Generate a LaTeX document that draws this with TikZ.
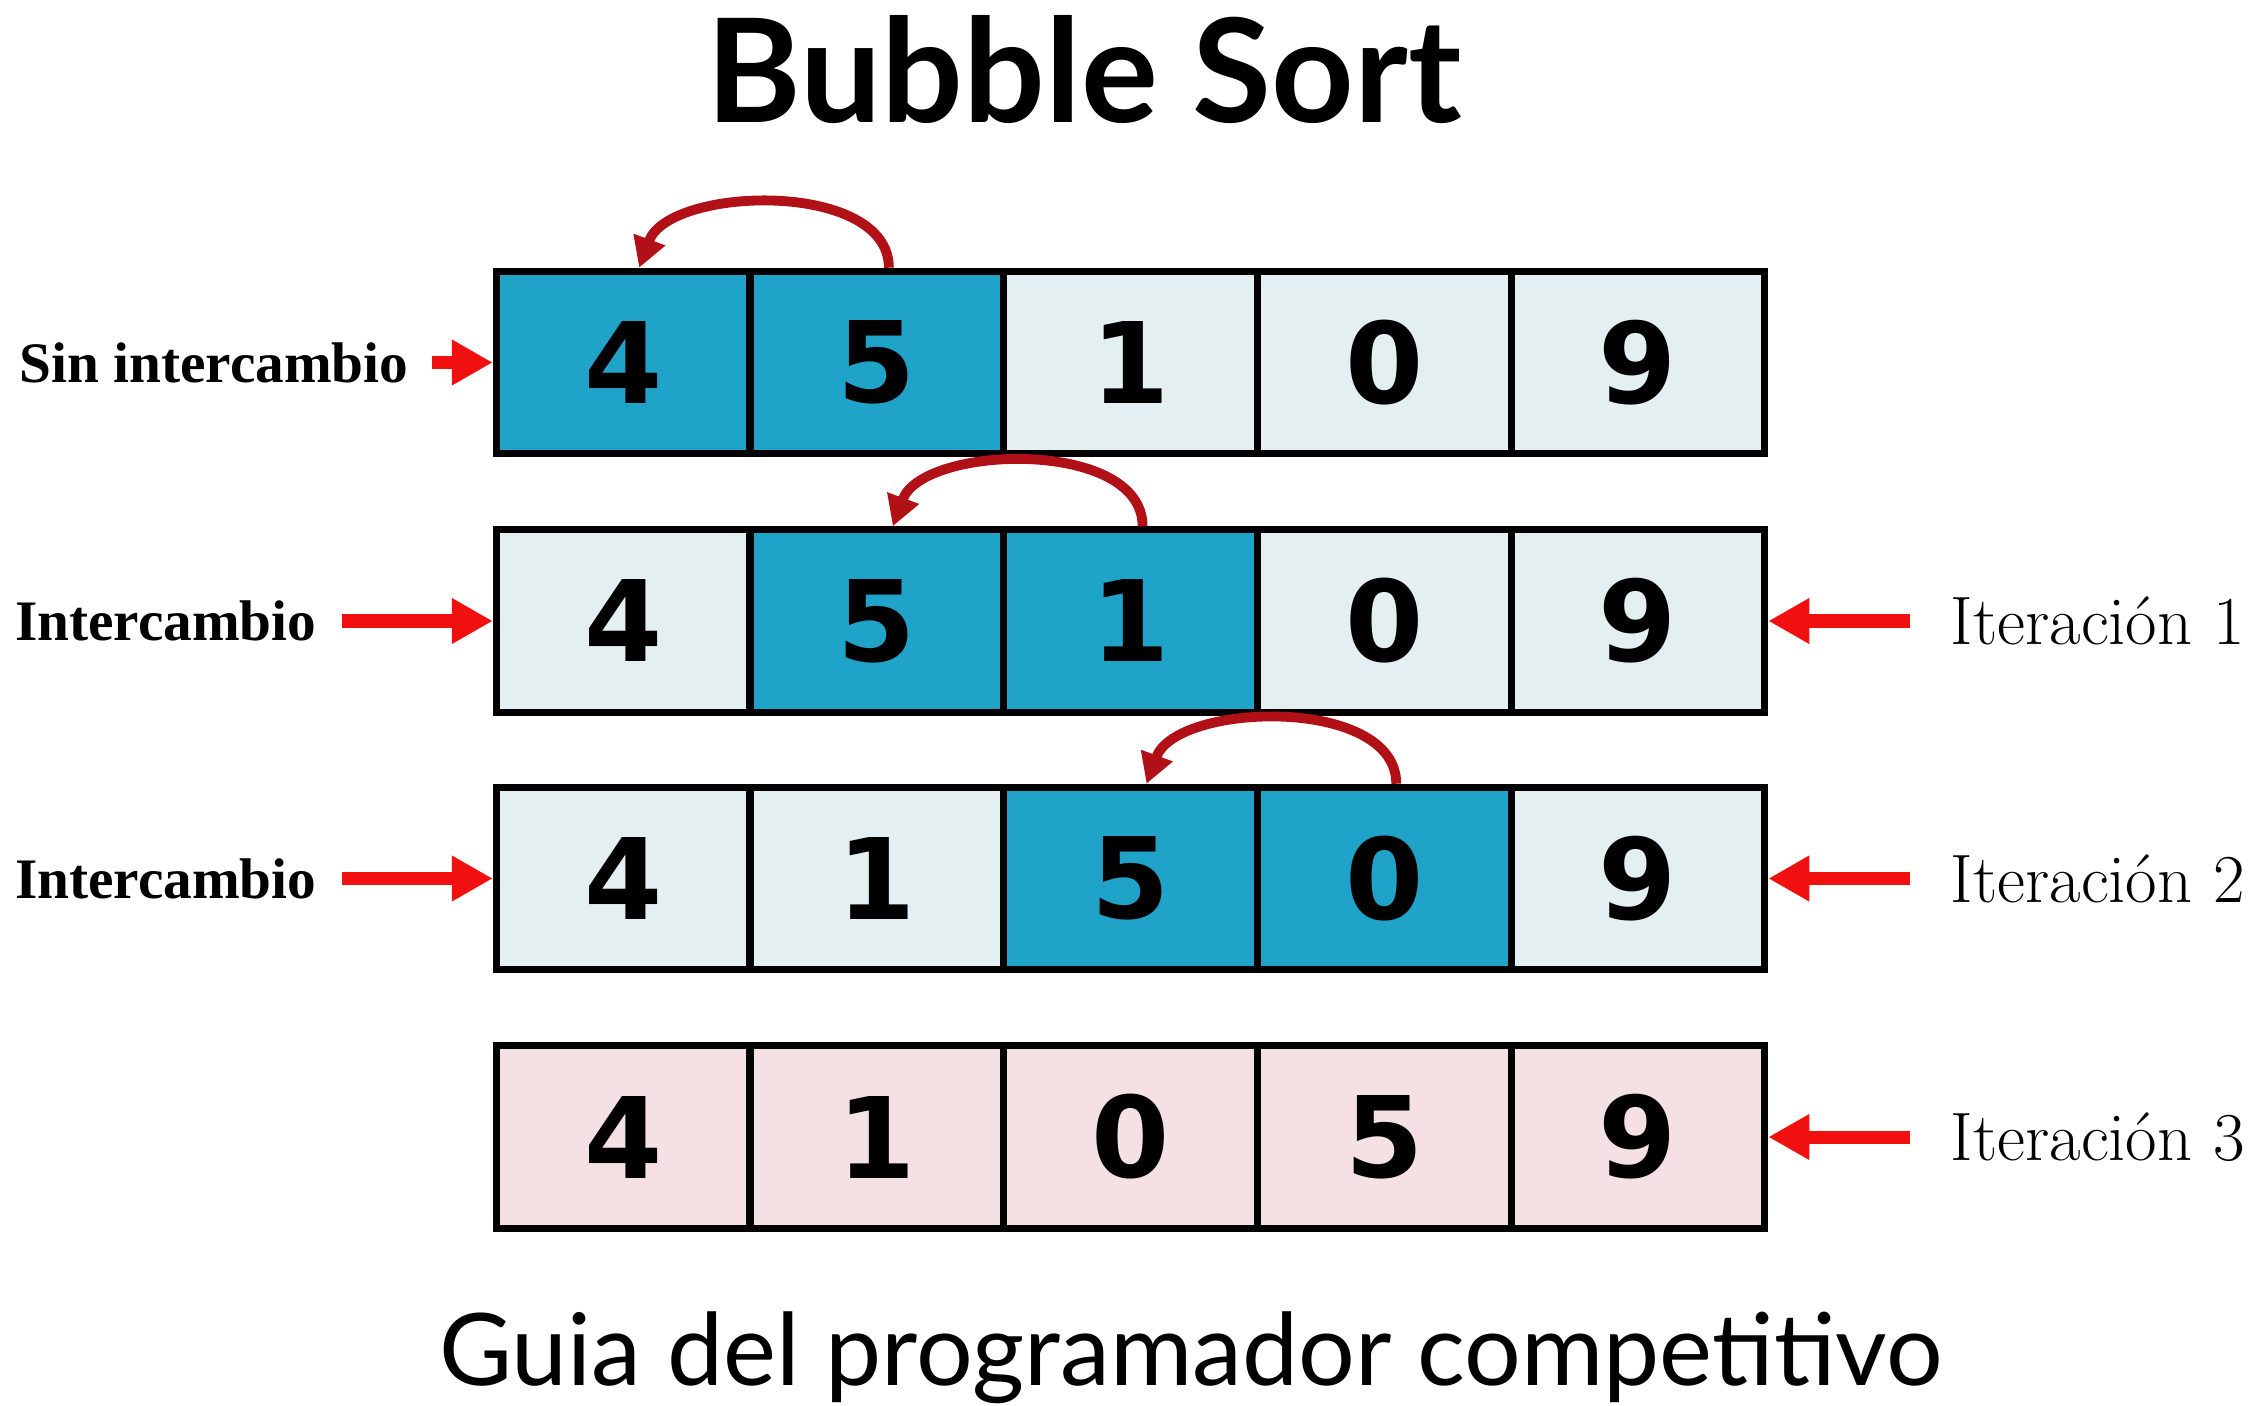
\documentclass[tikz,border=0pt]{standalone}
\usepackage{fontspec}
\newfontfamily\headfont{Lato}
\newfontfamily\digitfont{DejaVu Sans}
\newfontfamily\notefont{Liberation Serif}
\usetikzlibrary{arrows.meta}

\definecolor{swapblue}{RGB}{31,163,201}
\definecolor{cellgray}{RGB}{227,239,241}
\definecolor{cellpink}{RGB}{245,225,227}
\definecolor{pointred}{RGB}{240,16,16}
\definecolor{curvered}{RGB}{176,16,22}

\tikzset{
  cell/.style={draw=black, line width=2pt, minimum width=2.537cm, minimum height=1.825cm,
    inner sep=0pt, font=\digitfont\bfseries\fontsize{32}{36}\selectfont},
  pointer/.style={-{Triangle[length=0.41cm,width=0.43cm]}, line width=3.7pt, pointred},
  swaparrow/.style={-{Triangle[length=0.3cm,width=0.32cm]}, line width=2.8pt, curvered},
  leftnote/.style={anchor=east, inner sep=0pt, font=\notefont\bfseries\fontsize{16.3}{19}\selectfont},
  rightnote/.style={anchor=west, inner sep=0pt, font=\fontsize{19.5}{23}\selectfont}
}

\begin{document}
\begin{tikzpicture}
    \useasboundingbox (0,0) rectangle (22.61,14.05);

    % Title
    \node[anchor=base, inner sep=0pt, font=\headfont\bfseries\fontsize{41}{46}\selectfont] (title) at (10.84,12.82) {Bubble Sort};

    % Row 1: no swap
    \foreach \v/\c [count=\i] in {4/swapblue,5/swapblue,1/cellgray,0/cellgray,9/cellgray}
        \node[cell, fill=\c] (r1c\i) at ({6.2315+(\i-1)*2.537},10.425) {\v};

    % Row 2: swap 5 and 1
    \foreach \v/\c [count=\i] in {4/cellgray,5/swapblue,1/swapblue,0/cellgray,9/cellgray}
        \node[cell, fill=\c] (r2c\i) at ({6.2315+(\i-1)*2.537},7.84) {\v};

    % Row 3: swap 5 and 0
    \foreach \v/\c [count=\i] in {4/cellgray,1/cellgray,5/swapblue,0/swapblue,9/cellgray}
        \node[cell, fill=\c] (r3c\i) at ({6.2315+(\i-1)*2.537},5.265) {\v};

    % Row 4: result
    \foreach \v [count=\i] in {4,1,0,5,9}
        \node[cell, fill=cellpink] (r4c\i) at ({6.2315+(\i-1)*2.537},2.68) {\v};

    % Swap arcs
    \draw[swaparrow] ([xshift=0.12cm]r1c2.north) .. controls +(0,0.88) and +(0.3,0.82) .. ([xshift=0.16cm]r1c1.north);
    \draw[swaparrow] ([xshift=0.12cm]r2c3.north) .. controls +(0,0.88) and +(0.3,0.82) .. ([xshift=0.16cm]r2c2.north);
    \draw[swaparrow] ([xshift=0.12cm]r3c4.north) .. controls +(0,0.88) and +(0.3,0.82) .. ([xshift=0.16cm]r3c3.north);

    % Left notes
    \node[leftnote] (sin) at (4.09,10.425) {Sin intercambio};
    \draw[pointer] ([xshift=0.23cm]sin.east) -- (r1c1.west);
    \node[leftnote] (swapa) at (3.17,7.84) {Intercambio};
    \draw[pointer] ([xshift=0.25cm]swapa.east) -- (r2c1.west);
    \node[leftnote] (swapb) at (3.17,5.265) {Intercambio};
    \draw[pointer] ([xshift=0.25cm]swapb.east) -- (r3c1.west);

    % Right notes
    \node[rightnote] (it1) at (19.5,7.84) {Iteración 1};
    \draw[pointer] ([xshift=-0.4cm]it1.west) -- (r2c5.east);
    \node[rightnote] (it2) at (19.5,5.265) {Iteración 2};
    \draw[pointer] ([xshift=-0.4cm]it2.west) -- (r3c5.east);
    \node[rightnote] (it3) at (19.5,2.68) {Iteración 3};
    \draw[pointer] ([xshift=-0.4cm]it3.west) -- (r4c5.east);

    % Footer
    \node[anchor=base, inner sep=0pt, font=\headfont\fontsize{28.5}{33}\selectfont] (foot) at (11.91,0.2) {Guia del programador competitivo};
\end{tikzpicture}
\end{document}
